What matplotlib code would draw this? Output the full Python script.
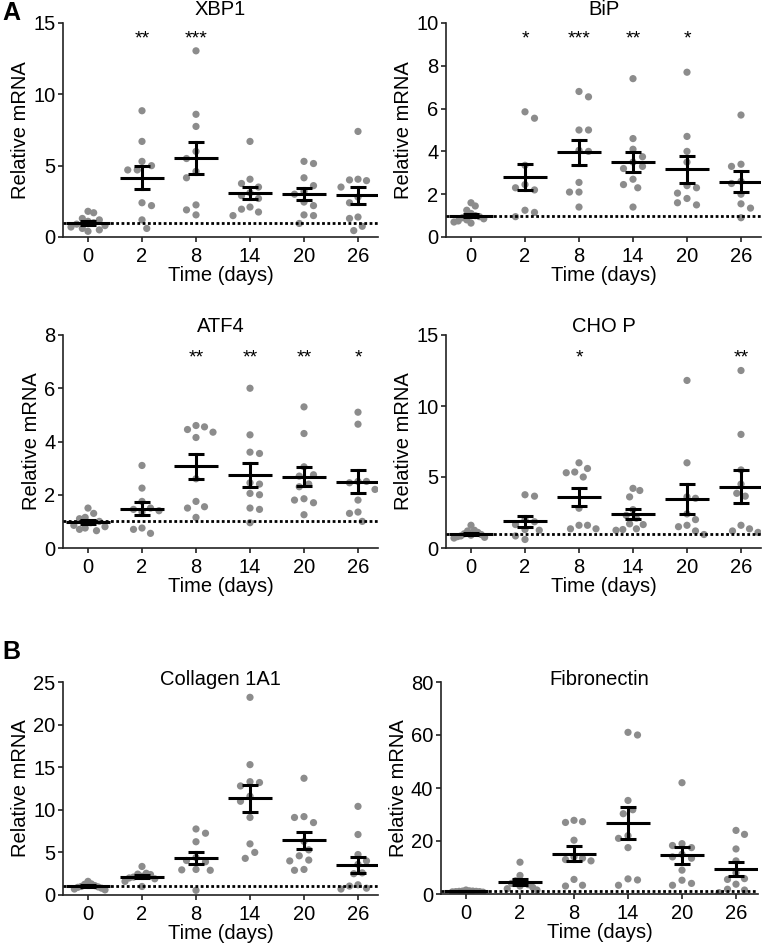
import numpy as np
import matplotlib
matplotlib.use('Agg')
import matplotlib.pyplot as plt

plt.rcParams['font.family'] = ['Liberation Sans', 'DejaVu Sans']

days = ['0', '2', '8', '14', '20', '26']

# relative mRNA values per day
xbp1 = [
    [1.7, 1.8, 1.3, 1.2, 1.0, 0.9, 0.8, 0.6, 0.5, 0.4, 1.1, 0.7],
    [8.85, 6.7, 5.3, 5.0, 4.7, 4.7, 2.4, 2.2, 1.2, 0.6],
    [13.05, 8.6, 7.75, 6.0, 5.5, 4.6, 4.15, 2.25, 1.9, 1.55],
    [6.7, 4.05, 3.75, 3.5, 3.1, 2.9, 2.7, 2.1, 1.95, 1.75, 1.5],
    [5.3, 5.15, 4.15, 3.6, 3.2, 3.0, 2.45, 2.2, 1.55, 1.5, 0.95],
    [7.4, 4.05, 4.0, 3.95, 3.5, 2.8, 2.4, 1.4, 1.3, 0.75, 0.45],
]
bip = [
    [1.45, 1.6, 1.25, 1.1, 1.0, 0.95, 0.9, 0.8, 0.75, 0.7, 0.65, 0.85],
    [5.55, 5.85, 3.35, 2.45, 2.3, 2.2, 1.25, 1.15, 0.95],
    [6.8, 6.55, 5.0, 5.0, 4.05, 4.0, 2.55, 2.1, 2.1, 1.4],
    [7.4, 4.6, 4.1, 3.75, 3.5, 3.3, 3.2, 2.7, 2.45, 2.3, 1.4],
    [7.7, 4.7, 4.0, 3.5, 2.4, 2.3, 2.05, 1.8, 1.6, 1.5],
    [5.7, 3.4, 3.3, 2.6, 2.5, 2.0, 1.55, 1.35, 0.9],
]
atf4 = [
    [1.5, 1.3, 1.15, 1.1, 1.0, 0.95, 0.85, 0.8, 0.75, 0.7, 0.65],
    [3.1, 2.25, 1.75, 1.5, 1.45, 1.4, 1.35, 0.75, 0.7, 0.55],
    [4.55, 4.6, 4.45, 4.35, 4.15, 2.6, 1.75, 1.55, 1.5, 1.15],
    [6.0, 4.25, 3.6, 3.55, 2.45, 2.4, 2.05, 2.0, 1.5, 1.45, 0.95],
    [5.3, 4.3, 3.05, 2.75, 2.7, 2.4, 2.3, 1.8, 1.7, 1.85, 1.25],
    [5.1, 4.65, 2.5, 2.5, 2.45, 2.2, 1.8, 1.35, 1.3, 1.0],
]
chop = [
    [1.6, 1.25, 1.2, 1.1, 1.0, 0.95, 0.9, 0.85, 0.8, 0.75, 0.7],
    [3.75, 3.65, 2.0, 1.85, 1.65, 1.3, 1.25, 0.85, 0.6],
    [6.0, 5.6, 5.35, 5.3, 5.0, 2.8, 1.6, 1.6, 1.35, 1.35],
    [4.2, 4.05, 3.6, 2.7, 2.3, 2.1, 1.7, 1.65, 1.35, 1.3, 1.25],
    [11.8, 6.0, 3.6, 3.5, 2.4, 2.0, 1.6, 1.5, 1.2, 0.95],
    [12.5, 8.0, 5.5, 4.5, 3.85, 3.65, 1.6, 1.35, 1.2, 1.1],
]
col1a1 = [
    [1.6, 1.3, 1.25, 1.1, 1.0, 0.95, 0.9, 0.8, 0.7, 0.6],
    [3.35, 2.55, 2.45, 2.4, 2.2, 2.1, 2.0, 1.9, 1.6, 1.0],
    [7.75, 7.25, 6.25, 4.4, 4.05, 3.9, 3.0, 2.9, 2.95, 0.55],
    [23.2, 15.3, 13.3, 13.2, 12.8, 11.6, 11.0, 9.1, 6.0, 5.0, 4.3],
    [13.7, 9.2, 9.1, 8.5, 6.3, 5.3, 4.6, 4.1, 4.0, 3.0, 2.9],
    [10.4, 7.1, 4.75, 4.0, 3.6, 2.6, 2.5, 1.2, 1.05, 0.8, 0.7],
]
fn1 = [
    [1.5, 1.2, 1.1, 1.0, 1.0, 0.9, 0.8, 0.7, 0.9, 1.1],
    [12.0, 7.0, 5.0, 4.5, 4.0, 3.5, 3.0, 2.5, 2.0, 1.5],
    [27.8, 27.3, 27.0, 20.3, 13.0, 12.5, 14.0, 13.5, 5.5, 3.3, 3.0],
    [61.0, 60.0, 35.3, 31.8, 30.3, 22.0, 21.0, 17.5, 5.7, 5.3, 3.3],
    [42.0, 19.0, 18.3, 17.5, 15.0, 14.0, 13.5, 9.0, 5.2, 4.0, 3.3],
    [24.0, 22.5, 17.0, 12.5, 8.0, 5.8, 5.5, 3.7, 1.8, 1.5, 0.5],
]

titles = ['XBP1', 'BiP', 'ATF4', 'CHO P', 'Collagen 1A1', 'Fibronectin']
all_data = [xbp1, bip, atf4, chop, col1a1, fn1]
ymaxes = [15, 10, 8, 15, 25, 80]
ysteps = [5, 2, 2, 5, 5, 20]
stars = [
    ['', '**', '***', '', '', ''],
    ['', '*', '***', '**', '*', ''],
    ['', '', '**', '**', '**', '*'],
    ['', '', '*', '', '', '**'],
    ['', '', '', '', '', ''],
    ['', '', '', '', '', ''],
]
star_y = [13.9, 9.25, 7.15, 13.4, None, None]

W, H = 766, 943
fig = plt.figure(figsize=(W / 100, H / 100), dpi=100)

# axes boxes in pixels: left, top, right, bottom
boxes = [
    (63, 23, 378, 237), (446, 23, 761, 237),
    (63, 335, 378, 548), (446, 335, 761, 548),
    (63, 682, 378, 895), (441, 682, 758, 894),
]
title_off = [1.061, 1.061, 1.038, 1.038, 1.014, 1.014]

gray = '#8c8c8c'
fs = 14.5


def swarm(vals, px_per_unit, diam, maxw):
    # simple beeswarm in pixel space, returns offsets in pixels
    order = np.argsort(vals)[::-1]
    placed = []
    offs = np.zeros(len(vals))
    for n, i in enumerate(order):
        yi = vals[i] * px_per_unit
        best = None
        for k in range(0, 60):
            sgns = [0] if k == 0 else ([1, -1] if n % 2 else [-1, 1])
            for sgn in sgns:
                cand = sgn * k * diam * 0.5
                if all((px - cand) ** 2 + (py - yi) ** 2 >= diam ** 2
                       for (px, py) in placed):
                    best = cand
                    break
            if best is not None:
                break
        offs[i] = best
        placed.append((best, yi))
    big = np.abs(offs).max()
    if big > maxw:
        offs = offs * maxw / big
    return offs


for p in range(6):
    l, t, r, b = boxes[p]
    ax = fig.add_axes([l / W, 1 - b / H, (r - l) / W, (b - t) / H])
    spacing = 54.0
    ax.set_xlim(-25 / spacing, -25 / spacing + (r - l) / spacing)
    ax.set_ylim(0, ymaxes[p])
    px_per_unit = (b - t) / ymaxes[p]
    data = all_data[p]
    for i, vals in enumerate(data):
        vals = np.array(vals)
        offs = swarm(vals, px_per_unit, 9.5, 17) / spacing
        ax.scatter(i + offs, vals, s=27, color=gray, edgecolors='none', zorder=2)
        m = vals.mean()
        sem = vals.std(ddof=1) / np.sqrt(len(vals))
        ax.plot([i - 0.4, i + 0.4], [m, m], color='black', lw=2.2, zorder=4,
                solid_capstyle='butt')
        ax.plot([i, i], [m - sem, m + sem], color='black', lw=2.2, zorder=4)
        for yy in (m - sem, m + sem):
            ax.plot([i - 0.15, i + 0.15], [yy, yy], color='black', lw=2.2,
                    zorder=4, solid_capstyle='butt')
        if stars[p][i]:
            ax.text(i, star_y[p], stars[p][i], ha='center', va='center',
                    fontsize=14)
    ax.axhline(1, color='black', lw=2, linestyle=(0, (1, 0.9)), zorder=3)

    ax.set_xticks(range(len(days)))
    ax.set_xticklabels(days)
    ax.set_yticks(np.arange(0, ymaxes[p] + 0.01, ysteps[p]))
    ax.tick_params(labelsize=fs, width=1.2, length=3.5, pad=2, color='#222222')
    ax.tick_params(axis='x', pad=4)
    for s in ['top', 'right']:
        ax.spines[s].set_visible(False)
    for s in ['left', 'bottom']:
        ax.spines[s].set_linewidth(1.2)
        ax.spines[s].set_color('#222222')
    ax.set_xlabel('Time (days)', fontsize=fs, labelpad=0)
    ax.set_ylabel('Relative mRNA', fontsize=fs, labelpad=2)
    ax.text(0.5, title_off[p], titles[p], transform=ax.transAxes,
            ha='center', va='center', fontsize=fs)

fig.text(2 / W, 1 - 13 / H, 'A', fontsize=18, fontweight='bold', va='center')
fig.text(2 / W, 1 - 652 / H, 'B', fontsize=18, fontweight='bold', va='center')

fig.savefig('out.png', dpi=100)
